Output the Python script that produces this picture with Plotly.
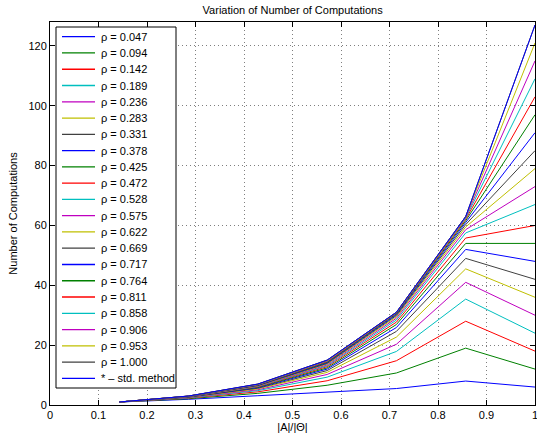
import plotly.graph_objects as go

x_vals = [1/7, 2/7, 3/7, 4/7, 5/7, 6/7, 1.0]

rho_labels = ["0.047", "0.094", "0.142", "0.189", "0.236", "0.283", "0.331",
              "0.378", "0.425", "0.472", "0.528", "0.575", "0.622", "0.669",
              "0.717", "0.764", "0.811", "0.858", "0.906", "0.953", "1.000"]

# values per point (n = 1..7), one list per rho
n1 = [1]*21
n2 = [1.9, 2.1, 2.3, 2.4, 2.5, 2.6, 2.65, 2.7, 2.75, 2.8, 2.82, 2.85, 2.87, 2.9, 2.92, 2.94, 2.96, 2.97, 2.98, 2.99, 3]
n3 = [3.1, 3.9, 4.4, 4.8, 5.1, 5.4, 5.6, 5.8, 5.95, 6.1, 6.2, 6.3, 6.4, 6.5, 6.6, 6.7, 6.75, 6.8, 6.9, 6.95, 7]
n4 = [4.2, 6.6, 8.1, 9.3, 10.2, 10.9, 11.5, 12.0, 12.4, 12.8, 13.1, 13.4, 13.7, 13.9, 14.1, 14.3, 14.5, 14.7, 14.85, 14.95, 15]
n5 = [5.5, 10.7, 14.8, 17.9, 20.3, 22.7, 24.6, 25.9, 26.9, 27.7, 28.4, 29.0, 29.5, 29.9, 30.2, 30.5, 30.7, 30.85, 30.95, 31, 31]
n6 = [8, 19, 28, 35.4, 41, 45.5, 49, 52, 54, 55.8, 57.5, 58.6, 59.5, 60.3, 61.0, 61.6, 62.1, 62.5, 62.8, 63.0, 63]
n7 = [6, 12, 18, 24, 30, 36, 42, 48, 54, 60, 67, 73, 79, 85, 91, 97, 103, 109, 115, 121, 127]

std_method = [1, 3, 7, 15, 31, 63, 127]
std_label = "* – std. method"

x_ticks = [0, 0.1, 0.2, 0.3, 0.4, 0.5, 0.6, 0.7, 0.8, 0.9, 1]
x_tick_labels = ["0", "0.1", "0.2", "0.3", "0.4", "0.5", "0.6", "0.7", "0.8", "0.9", "1"]
y_ticks = [0, 20, 40, 60, 80, 100, 120]

colors = ["rgb(0,0,255)", "rgb(0,128,0)", "rgb(255,0,0)", "rgb(0,191,191)",
          "rgb(191,0,191)", "rgb(191,191,0)", "rgb(64,64,64)"]

W_FIG, H_FIG = 537, 439
ML, MR, MT, MB = 50, 2, 22, 34
PW = W_FIG - ML - MR
PH = H_FIG - MT - MB


def px(xp):
    return (xp - ML) / PW


def py(yp):
    return (H_FIG - MB - yp) / PH


fig = go.Figure()
names = []
line_colors = []
for i, lab in enumerate(rho_labels):
    ys = [n1[i], n2[i], n3[i], n4[i], n5[i], n6[i], n7[i]]
    c = colors[i % 7]
    fig.add_trace(go.Scatter(x=x_vals, y=ys, mode="lines",
                             line=dict(color=c, width=1),
                             name="ρ = " + lab, showlegend=False))
    names.append("ρ = " + lab)
    line_colors.append(c)
c = colors[21 % 7]
fig.add_trace(go.Scatter(x=x_vals, y=std_method, mode="lines",
                         line=dict(color=c, width=1),
                         name=std_label, showlegend=False))
names.append(std_label)
line_colors.append(c)

# hand-built legend (Plotly's legend rows are too tall for 22 entries)
shapes = [dict(type="rect", xref="paper", yref="paper",
               x0=px(56), x1=px(176), y0=py(388), y1=py(27),
               line=dict(color="black", width=1), fillcolor="white", layer="above")]
annotations = []
y_first, step = 36.7, 16.27
for k, (nm, c) in enumerate(zip(names, line_colors)):
    yc = y_first + k * step
    shapes.append(dict(type="line", xref="paper", yref="paper",
                       x0=px(62), x1=px(95), y0=py(yc), y1=py(yc),
                       line=dict(color=c, width=1.3), layer="above"))
    annotations.append(dict(text=nm, xref="paper", yref="paper",
                            x=px(98.5), y=py(yc), xanchor="left", yanchor="middle",
                            showarrow=False, font=dict(size=11)))

font = "Liberation Sans, Arial, sans-serif"
grid = "rgba(0,0,0,0.5)"
fig.update_layout(
    template="none",
    width=W_FIG, height=H_FIG,
    margin=dict(l=ML, r=MR, t=MT, b=MB),
    paper_bgcolor="white", plot_bgcolor="white",
    font=dict(family=font, size=11, color="black"),
    title=dict(text="Variation of Number of Computations", x=0.545, xanchor="center",
               y=0.977, yanchor="middle", font=dict(size=11)),
    showlegend=False,
    shapes=shapes,
    annotations=annotations,
    xaxis=dict(range=[0, 1], tickvals=x_ticks, ticktext=x_tick_labels,
               showgrid=True, gridcolor=grid, griddash="1px,3px", gridwidth=1,
               showline=True, linecolor="black", linewidth=1, mirror="ticks",
               ticks="inside", ticklen=5, tickcolor="black", zeroline=False,
               ticklabeloverflow="allow", automargin=False,
               title=dict(text="|A|/|Θ|", standoff=2, font=dict(size=11))),
    yaxis=dict(range=[0, 128], tickvals=y_ticks,
               showgrid=True, gridcolor=grid, griddash="1px,3px", gridwidth=1,
               showline=True, linecolor="black", linewidth=1, mirror="ticks",
               ticks="inside", ticklen=5, tickcolor="black", zeroline=False,
               automargin=False,
               title=dict(text="Number of Computations", standoff=8, font=dict(size=11))),
)

fig.write_html("out.html")
